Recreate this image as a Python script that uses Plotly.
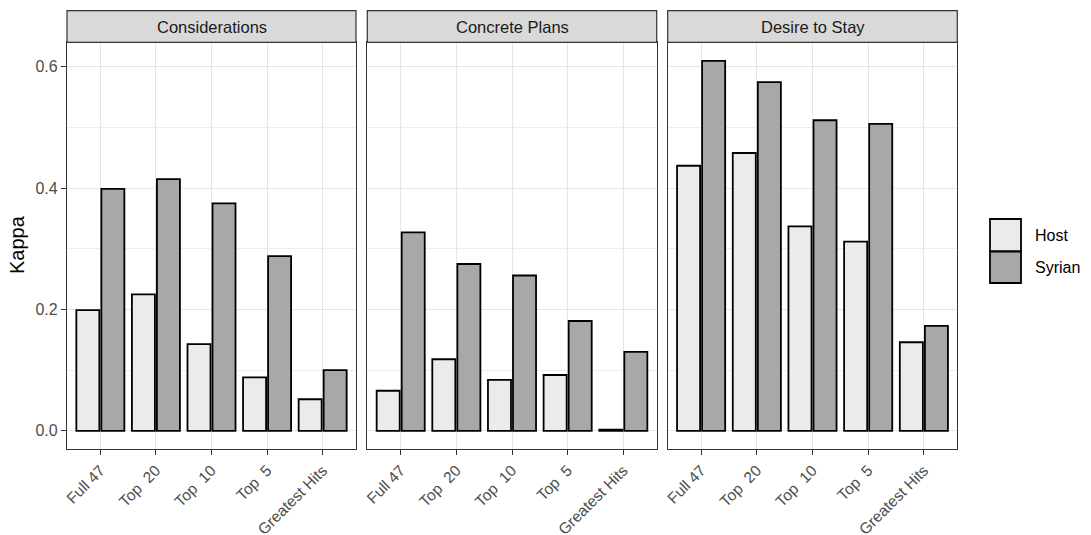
import plotly.graph_objects as go

# Kappa agreement by item set, for host-country and Syrian respondents
panels = ["Considerations", "Concrete Plans", "Desire to Stay"]
item_sets = ["Full 47", "Top  20", "Top  10", "Top  5", "Greatest Hits"]
groups = ["Host", "Syrian"]

host_considerations = [0.199, 0.225, 0.143, 0.088, 0.052]
syrian_considerations = [0.399, 0.415, 0.375, 0.288, 0.100]

host_concrete = [0.066, 0.118, 0.084, 0.092, 0.002]
syrian_concrete = [0.327, 0.275, 0.256, 0.181, 0.130]

host_desire = [0.437, 0.458, 0.337, 0.312, 0.146]
syrian_desire = [0.610, 0.575, 0.512, 0.506, 0.173]

y_ticks = [0.0, 0.2, 0.4, 0.6]
y_tick_text = ["0.0", "0.2", "0.4", "0.6"]

panel_values = [
    (host_considerations, syrian_considerations),
    (host_concrete, syrian_concrete),
    (host_desire, syrian_desire),
]

fill_colors = {"Host": "#EBEBEB", "Syrian": "#A8A8A8"}

W, H = 1091, 535
FONT = "Liberation Sans, Arial, Helvetica, sans-serif"

# panel placement in pixels
panel_x = [(67, 356), (367.3, 656.7), (667.7, 957.3)]
plot_top, plot_bottom = 42.3, 449.3
strip_top = 10.7

ymax = max(max(v) for pair in panel_values for v in pair)
pad = ymax * 0.05
y_range = [-pad, ymax + pad]

fig = go.Figure()

for i, (vals_host, vals_syr) in enumerate(panel_values):
    suffix = "" if i == 0 else str(i + 1)
    for g, vals in zip(groups, (vals_host, vals_syr)):
        fig.add_trace(go.Bar(
            x=item_sets, y=vals, name=g,
            marker=dict(color=fill_colors[g], line=dict(color="#000000", width=1.8)),
            xaxis="x" + suffix, yaxis="y" + suffix,
            showlegend=False, offsetgroup=g,
            hovertemplate="%{x}<br>" + g + ": %{y:.3f}<extra></extra>",
        ))

grid_major = "#E6E6E6"
axis_common = dict(showline=True, mirror=True, linecolor="#333333", linewidth=1.2,
                   zeroline=False, showgrid=True, gridcolor=grid_major, gridwidth=1.3,
                   automargin=False)

for i, (x0, x1) in enumerate(panel_x):
    suffix = "" if i == 0 else str(i + 1)
    xa = dict(axis_common)
    xa.update(
        domain=[x0 / W, x1 / W], anchor="y" + suffix,
        type="category", categoryorder="array", categoryarray=item_sets,
        range=[-0.6, len(item_sets) - 0.4],
        ticks="outside", ticklen=5, tickwidth=1.4, tickcolor="#333333",
        tickangle=-45,
        tickfont=dict(family=FONT, size=15.5, color="#4D4D4D"),
    )
    ya = dict(axis_common)
    ya.update(
        domain=[1 - plot_bottom / H, 1 - plot_top / H], anchor="x" + suffix,
        range=y_range, tickvals=y_ticks, ticktext=y_tick_text,
        minor=dict(dtick=0.1, tick0=0, showgrid=True, gridcolor="#EDEDED",
                   gridwidth=0.7, ticks=""),
    )
    if i == 0:
        ya.update(ticks="outside", ticklen=5, tickwidth=1.4, tickcolor="#333333",
                  tickfont=dict(family=FONT, size=16, color="#4D4D4D"),
                  showticklabels=True)
    else:
        ya.update(ticks="", showticklabels=False)
    fig.layout["xaxis" + suffix] = xa
    fig.layout["yaxis" + suffix] = ya

shapes = []
annotations = []
for i, (x0, x1) in enumerate(panel_x):
    # facet strip
    shapes.append(dict(type="rect", xref="paper", yref="paper",
                       x0=x0 / W, x1=x1 / W, y0=1 - plot_top / H, y1=1 - strip_top / H,
                       fillcolor="#D9D9D9", line=dict(color="#333333", width=1.2),
                       layer="above"))
    annotations.append(dict(text=panels[i], xref="paper", yref="paper",
                            x=(x0 + x1) / 2 / W, y=1 - (plot_top + strip_top) / 2 / H,
                            showarrow=False, xanchor="center", yanchor="middle",
                            font=dict(family=FONT, size=16.5, color="#1A1A1A")))

# y-axis title
annotations.append(dict(text="Kappa", xref="paper", yref="paper",
                        x=17 / W, y=1 - 245 / H, showarrow=False, textangle=-90,
                        xanchor="center", yanchor="middle",
                        font=dict(family=FONT, size=20, color="#000000")))

# legend keys
key_x0, key_x1 = 990, 1021
key_rows = [(219, 251.5), (251.5, 283)]
for g, (k0, k1) in zip(groups, key_rows):
    shapes.append(dict(type="rect", xref="paper", yref="paper",
                       x0=key_x0 / W, x1=key_x1 / W, y0=1 - k1 / H, y1=1 - k0 / H,
                       fillcolor=fill_colors[g], line=dict(color="#000000", width=1.8)))
    annotations.append(dict(text=g, xref="paper", yref="paper",
                            x=1033 / W, y=1 - (k0 + k1) / 2 / H, showarrow=False,
                            xanchor="left", yanchor="middle",
                            font=dict(family=FONT, size=16, color="#000000")))

fig.update_layout(
    width=W, height=H,
    margin=dict(l=0, r=0, t=0, b=0),
    paper_bgcolor="white", plot_bgcolor="white",
    barmode="group", bargap=0.1, bargroupgap=0.08,
    shapes=shapes, annotations=annotations,
    showlegend=False,
)

fig.write_html("out.html")
